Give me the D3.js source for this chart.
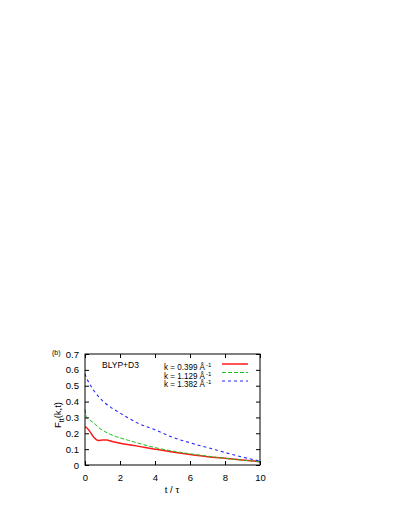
<!DOCTYPE html>
<html>
<head>
<meta charset="utf-8">
<script src="https://cdn.jsdelivr.net/npm/d3@7"></script>
<style>
  body { margin: 0; background: #fff; }
  svg text { font-family: "Liberation Sans", Arial, sans-serif; fill: #000; }
</style>
</head>
<body>
<svg id="chart" width="409" height="529"></svg>
<script>
// data (t / tau, F_tt)
var t_red    = [0, 0.1, 0.25, 0.5, 0.75, 1.0, 1.25, 1.5, 2.0, 2.5, 3.0, 4.0, 5.0, 6.0, 7.0, 8.0, 9.0, 10.0];
var f_red    = [0.24, 0.235, 0.215, 0.175, 0.155, 0.157, 0.158, 0.150, 0.137, 0.128, 0.119, 0.100, 0.082, 0.066, 0.052, 0.042, 0.032, 0.021];
var t_green  = [0, 0.05, 0.1, 0.25, 0.5, 0.8, 1.2, 1.6, 2.0, 2.5, 3.0, 4.0, 5.0, 6.0, 7.0, 8.0, 9.0, 10.0];
var f_green  = [0.35, 0.32, 0.30, 0.285, 0.265, 0.234, 0.207, 0.186, 0.171, 0.155, 0.139, 0.110, 0.088, 0.071, 0.056, 0.042, 0.031, 0.020];
var t_blue   = [0, 0.1, 0.25, 0.5, 0.75, 1.0, 1.5, 2.0, 2.5, 3.0, 4.0, 5.0, 6.0, 7.0, 8.0, 9.0, 10.0];
var f_blue   = [0.575, 0.545, 0.515, 0.470, 0.435, 0.405, 0.362, 0.328, 0.295, 0.265, 0.222, 0.175, 0.140, 0.110, 0.079, 0.050, 0.025];
var x_ticks  = [0, 2, 4, 6, 8, 10];
var y_ticks  = [0, 0.1, 0.2, 0.3, 0.4, 0.5, 0.6, 0.7];
var k_labels = ["0.399", "1.129", "1.382"];

var series = [
    {t: t_red,   f: f_red,   color: "#ff1a1a", dash: null,  width: 1.5},
    {t: t_green, f: f_green, color: "#1fbf1f", dash: "4,2", width: 1},
    {t: t_blue,  f: f_blue,  color: "#2424ff", dash: "3,3", width: 1.1}
];

var svg = d3.select('#chart');
var margin = {left: 85, right: 149, top: 354, bottom: 64};
var W = 409 - margin.left - margin.right,
    H = 529 - margin.top - margin.bottom;

var x = d3.scaleLinear().domain([0, 10]).range([0, W]);
var y = d3.scaleLinear().domain([0, 0.7]).range([H, 0]);

var g = svg.append('g').attr('transform', `translate(${margin.left},${margin.top})`);

// curves
var line = d3.line()
    .x(function(d) { return x(d[0]); })
    .y(function(d) { return y(d[1]); })
    .curve(d3.curveMonotoneX);

series.forEach(function(s) {
    g.append('path')
        .datum(d3.zip(s.t, s.f))
        .attr('d', line)
        .attr('fill', 'none')
        .attr('stroke', s.color)
        .attr('stroke-width', s.width)
        .attr('stroke-dasharray', s.dash);
});

// axes, ticks inward and mirrored
var tick_len = 4;
g.append('g').attr('transform', `translate(0,${H})`)
    .call(d3.axisBottom(x).tickValues(x_ticks).tickSizeInner(-tick_len).tickSizeOuter(0).tickPadding(9).tickFormat(d3.format('d')));
g.append('g')
    .call(d3.axisTop(x).tickValues(x_ticks).tickSizeInner(-tick_len).tickSizeOuter(0).tickFormat(''));
g.append('g')
    .call(d3.axisLeft(y).tickValues(y_ticks).tickSizeInner(-tick_len).tickSizeOuter(0).tickPadding(6).tickFormat(function(d) { return d === 0 ? '0' : d3.format('.1f')(d); }));
g.append('g').attr('transform', `translate(${W},0)`)
    .call(d3.axisRight(y).tickValues(y_ticks).tickSizeInner(-tick_len).tickSizeOuter(0).tickFormat(''));

g.selectAll('.domain').remove();
g.selectAll('.tick line').attr('stroke', '#000').attr('stroke-width', 1);
g.selectAll('.tick text').attr('font-size', 9.5).attr('font-family', '"Liberation Sans", Arial, sans-serif');

g.append('rect')
    .attr('width', W).attr('height', H)
    .attr('fill', 'none').attr('stroke', '#000').attr('stroke-width', 1);

// labels
svg.append('text').attr('x', 52).attr('y', 355).attr('font-size', 7).text('(b)');
g.append('text').attr('x', 17).attr('y', 14).attr('font-size', 8.5).text('BLYP+D3');

var ylab = svg.append('text')
    .attr('transform', 'translate(61,415) rotate(-90)')
    .attr('text-anchor', 'middle')
    .attr('font-size', 9.5);
ylab.append('tspan').text('F');
ylab.append('tspan').attr('font-size', 7).attr('dy', 3).text('tt');
ylab.append('tspan').attr('dy', -3).text('(k,t)');

svg.append('text').attr('x', 172).attr('y', 493).attr('text-anchor', 'middle').attr('font-size', 9.5).text('t / \u03c4');

// legend
series.forEach(function(s, i) {
    var ly = 10 + i * 8.5;
    var lt = g.append('text')
        .attr('x', 79).attr('y', ly + 6)
        .attr('font-size', 8.5);
    lt.append('tspan')
        .attr('textLength', 41).attr('lengthAdjust', 'spacingAndGlyphs')
        .text('k = ' + k_labels[i] + ' \u00c5');
    lt.append('tspan').attr('dx', 1).attr('dy', -3).attr('font-size', 6).text('-1');
    g.append('line')
        .attr('x1', 137).attr('x2', 163)
        .attr('y1', ly).attr('y2', ly)
        .attr('stroke', s.color)
        .attr('stroke-width', s.width)
        .attr('stroke-dasharray', s.dash);
});
</script>
</body>
</html>
